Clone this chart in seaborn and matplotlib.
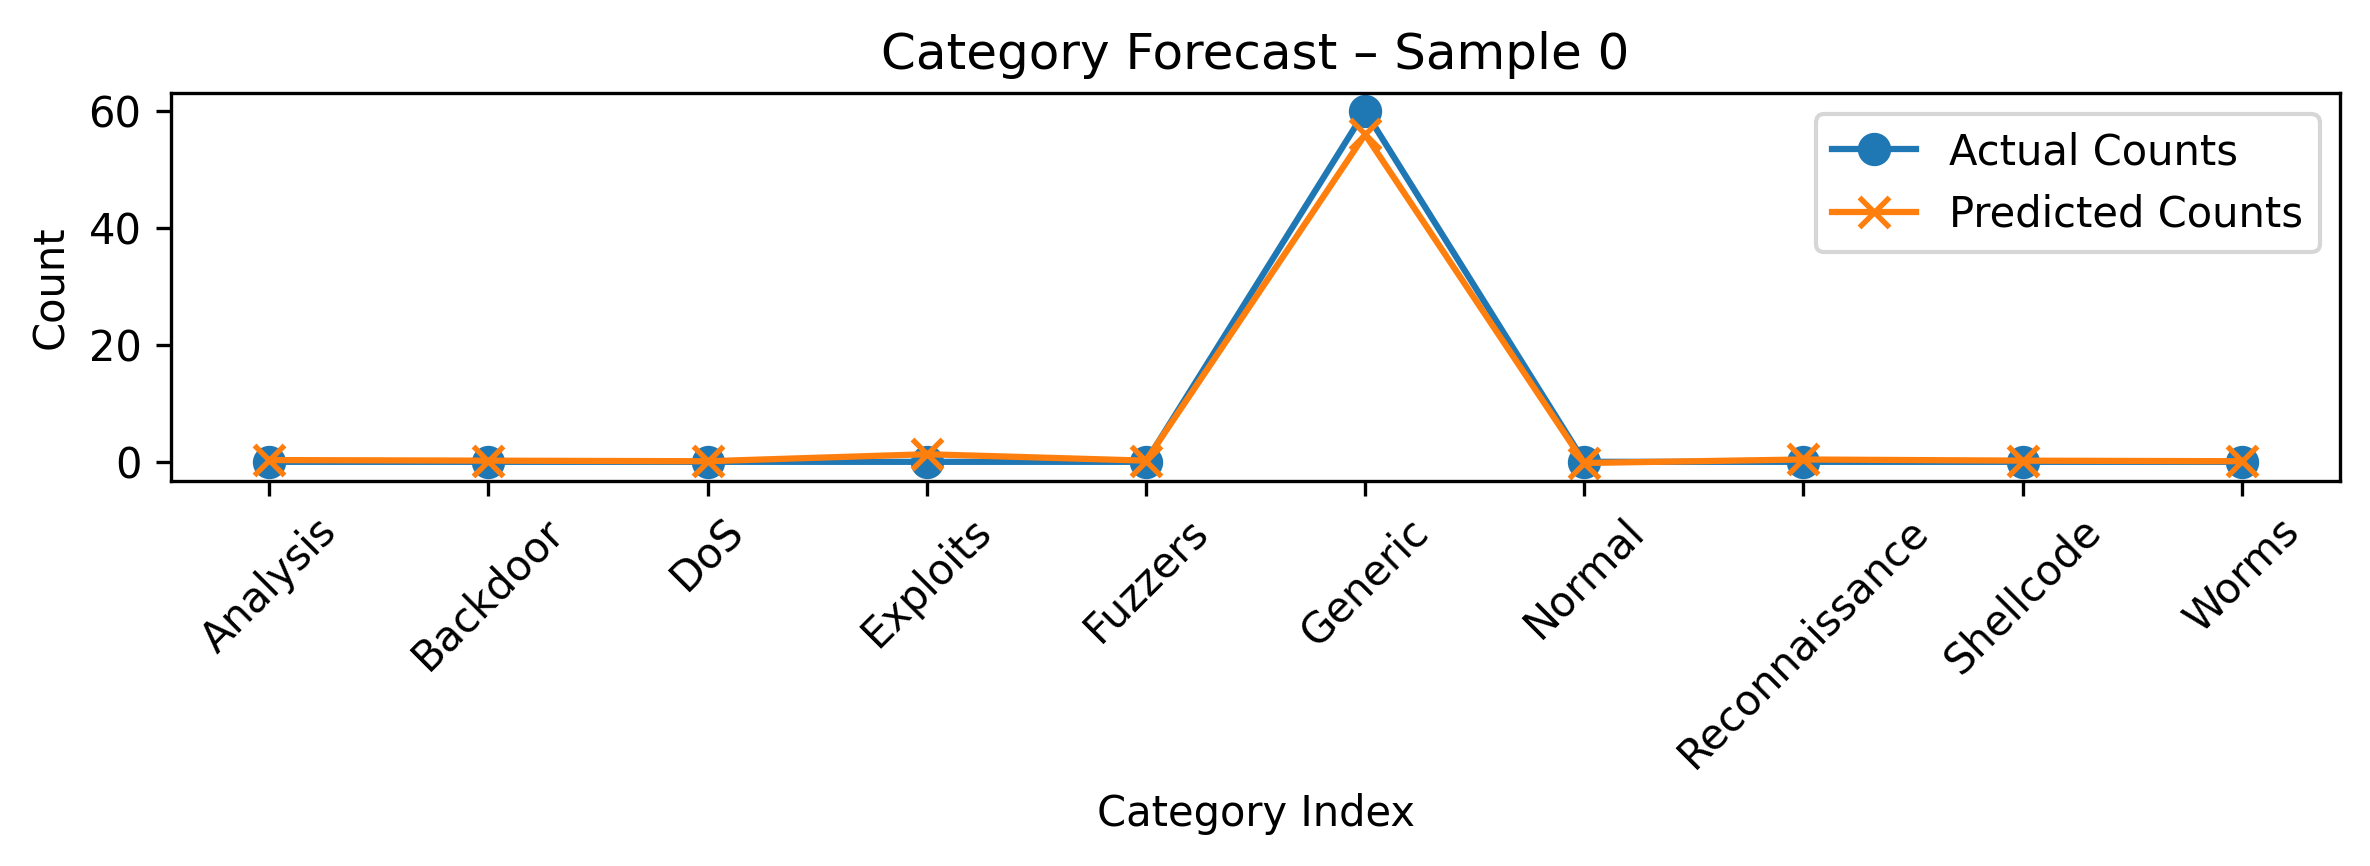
import matplotlib
matplotlib.use("Agg")
import matplotlib.pyplot as plt
import seaborn as sns
import numpy as np

categories = ["Analysis", "Backdoor", "DoS", "Exploits", "Fuzzers", "Generic",
              "Normal", "Reconnaissance", "Shellcode", "Worms"]
actual_counts = [0, 0, 0, 0, 0, 60, 0, 0, 0, 0]
predicted_counts = [0.3, 0.2, 0.1, 1.3, 0.2, 56, -0.2, 0.4, 0.2, 0.1]

fig = plt.figure(figsize=(7.9, 2.887), dpi=300)
ax = fig.add_axes([0.072, 0.445, 0.9155, 0.447])
x = np.arange(len(categories))
sns.lineplot(x=x, y=actual_counts, marker="o", markersize=7, markeredgewidth=1,
             markeredgecolor="#1f77b4", color="#1f77b4", linewidth=1.5, ax=ax)
sns.lineplot(x=x, y=predicted_counts, marker="x", markersize=7, markeredgewidth=1.3,
             markeredgecolor="#ff7f0e", color="#ff7f0e", linewidth=1.5, ax=ax)
ax.set_xticks(x)
ax.set_xticklabels(categories, rotation=45)
ax.set_xlabel("Category Index")
ax.set_ylabel("Count")
ax.set_title("Category Forecast – Sample 0")
lines = ax.get_lines()
ax.legend(handles=lines[:2], labels=["Actual Counts", "Predicted Counts"], loc="upper right")
fig.savefig("out.png", dpi=300)
